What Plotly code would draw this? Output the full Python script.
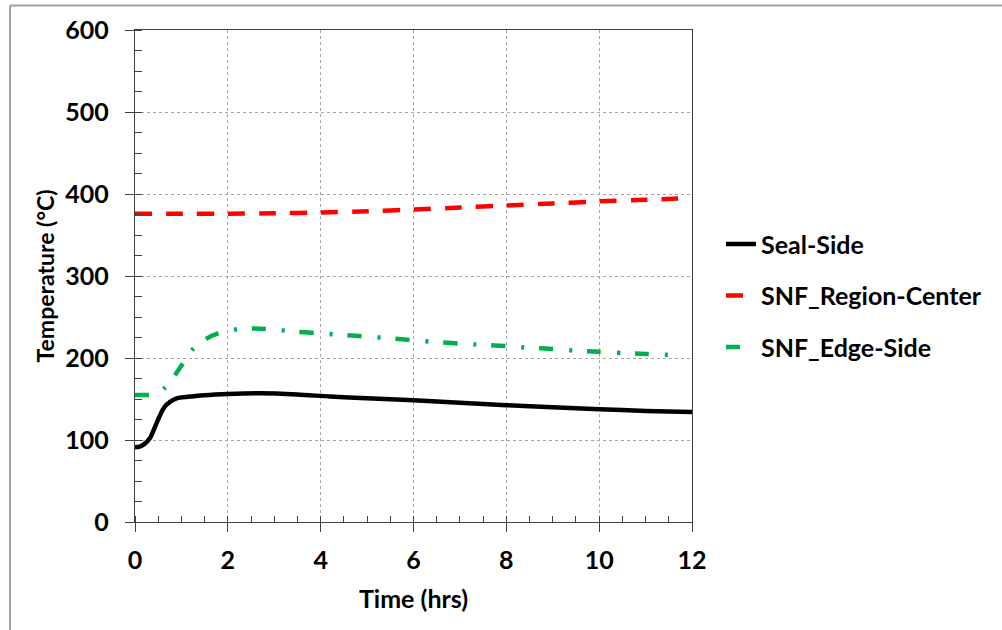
import plotly.graph_objects as go

# Seal-Side (black solid)
seal_t = [0, 0.1, 0.2, 0.32, 0.49, 0.6, 0.68, 0.86, 1.0, 1.2, 1.5, 2.0, 2.7, 3.5, 4.2, 5.0, 6.0, 7.0, 8.0, 9.0, 10.0, 11.0, 12.0]
seal_T = [91, 92, 95, 102, 124, 137, 143, 150, 152, 153, 154.5, 156, 157, 155.5, 153, 151, 148.5, 145.5, 142.5, 140, 137.5, 135.5, 134]

# SNF_Region-Center (red dashed)
center_t = [0, 1, 2, 3, 4, 5, 6, 7, 8, 9, 10, 11, 11.7]
center_T = [376, 376, 376, 376.5, 377.5, 379, 381, 383.5, 386, 388.5, 391, 393, 394.5]

# SNF_Edge-Side (green dash-dot)
edge_t = [0, 0.3, 0.5, 0.63, 0.86, 1.04, 1.25, 1.55, 1.83, 2.2, 2.6, 3.0, 3.5, 4.0, 4.5, 5.0, 5.5, 6.0, 6.5, 7.0, 7.5, 8.0, 8.5, 9.0, 9.5, 10.0, 10.5, 11.0, 11.7]
edge_T = [155, 155, 157, 163, 179, 194, 211, 224, 231, 235, 236, 234.5, 232, 230, 228, 226, 224, 221.5, 219.5, 217.5, 216, 214.5, 212.5, 211, 209, 207.5, 206, 205, 203.5]

FONT = "Lato"
FS = 25

fig = go.Figure()
fig.add_trace(go.Scatter(x=seal_t, y=seal_T, name="Seal-Side", mode="lines", legendgroup="a",
                         line=dict(color="black", width=4.5, shape="spline", smoothing=0.6)))
fig.add_trace(go.Scatter(x=center_t, y=center_T, name="SNF_Region-Center", mode="lines", legendgroup="b",
                         line=dict(color="#ff0000", width=4.5, dash="17px,14px", shape="spline", smoothing=0.6)))
fig.add_trace(go.Scatter(x=edge_t, y=edge_T, name="SNF_Edge-Side", mode="lines", legendgroup="c",
                         line=dict(color="#00b050", width=4.5, dash="14px,16px,3px,15px", shape="spline", smoothing=0.6)))

axis_common = dict(
    showline=True, linecolor="#404040", linewidth=1.3, mirror=True,
    showgrid=True, gridcolor="#a6a6a6", griddash="3px,3px", gridwidth=1,
    zeroline=False, ticks="outside", ticklen=9, tickcolor="#404040", tickwidth=1.3,
    tickfont=dict(family=FONT, size=FS, color="black", weight="bold"),
)

fig.update_xaxes(range=[0, 12], dtick=2, ticklabelstandoff=7,
                 minor=dict(ticks="inside", ticklen=6, dtick=0.5, tickcolor="#404040", tickwidth=1),
                 title=dict(text="Time (hrs)", standoff=17,
                            font=dict(family=FONT, size=FS, color="black", weight="bold")),
                 **axis_common)
fig.update_yaxes(range=[0, 600], dtick=100, ticklabelstandoff=11,
                 minor=dict(ticks="inside", ticklen=7, dtick=25, tickcolor="#404040", tickwidth=1),
                 title=dict(text="Temperature (°C)", standoff=4,
                            font=dict(family=FONT, size=23, color="black", weight="bold")),
                 **axis_common)

border = dict(color="#a0a0a0", width=2)
fig.update_layout(
    width=1002, height=630,
    margin=dict(l=135, r=310, t=30, b=108),
    paper_bgcolor="white", plot_bgcolor="white",
    showlegend=True,
    legend=dict(x=1.052, y=0.46, xanchor="left", yanchor="middle", tracegroupgap=16,
                font=dict(family=FONT, size=FS, color="black", weight="bold"),
                bgcolor="rgba(0,0,0,0)"),
    shapes=[
        dict(type="line", xref="paper", yref="paper", x0=-0.2244, x1=1.6, y0=1.0498, y1=1.0498, line=border),
        dict(type="line", xref="paper", yref="paper", x0=-0.2244, x1=-0.2244, y0=-0.3, y1=1.0498, line=border),
    ],
)

fig.write_html("out.html", config={"displayModeBar": False},
               post_script="document.body.style.margin='0';document.body.style.overflow='hidden';")
